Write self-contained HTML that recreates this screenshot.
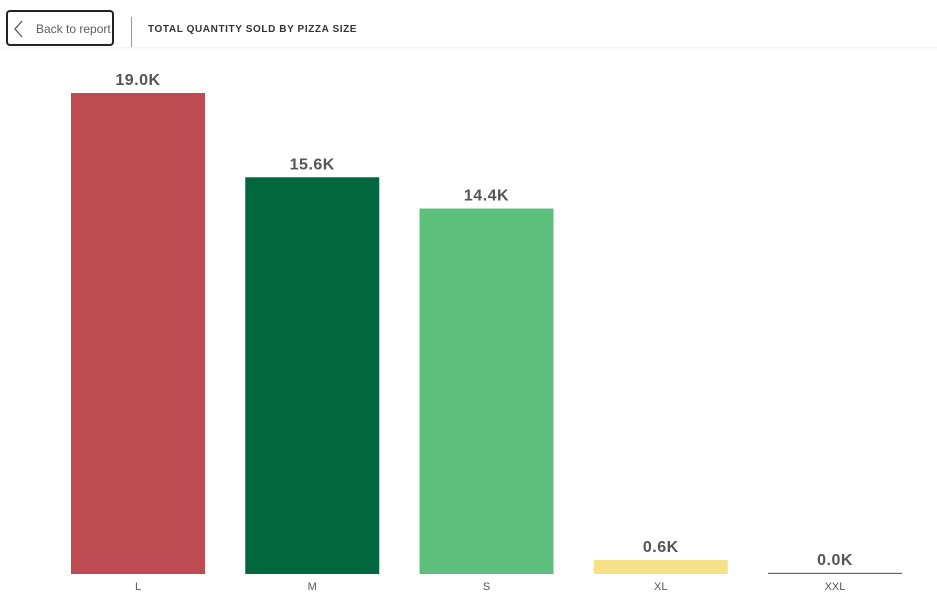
<!DOCTYPE html>
<html><head><meta charset="utf-8"><style>
html,body{margin:0;padding:0;background:#fff;width:937px;height:602px;overflow:hidden;font-family:"Liberation Sans",sans-serif}
#back{position:absolute;left:6px;top:10px;width:108px;height:36px;border:2px solid #222;border-radius:4px;box-sizing:border-box}
#back span{position:absolute;left:28px;top:10px;font-size:12px;color:#605e5c}
#sep{position:absolute;left:131px;top:17px;width:1px;height:30px;background:#999}
#title{position:absolute;left:148px;top:24px;font-size:10px;font-weight:bold;color:#333;letter-spacing:0.6px}
#hdr{position:absolute;left:0;top:47px;width:937px;height:3px;background:linear-gradient(#f1f1f1,#fff)}
</style></head><body>
<div id="back">
<svg width="14" height="20" style="position:absolute;left:4px;top:7px"><polyline points="10,2 3,10 10,18" fill="none" stroke="#555" stroke-width="1.3"/></svg>
<span>Back to report</span></div>
<div id="sep"></div>
<div id="title">TOTAL QUANTITY SOLD BY PIZZA SIZE</div>
<div id="hdr"></div>
<svg id="chart" width="937" height="602" style="position:absolute;left:0;top:0"></svg>
<script>
const categories=["L","M","S","XL","XXL"];
const values=[18956,15635,14403,552,28];
const valueLabels=["19.0K","15.6K","14.4K","0.6K","0.0K"];
const colors=["#bd4b51","#02673f","#5cbf7b","#f5e187","#666666"];
const svg=document.getElementById('chart');
const NS="http://www.w3.org/2000/svg";
const baseY=574,left=71,step=174.25,bw=134,maxV=18956,maxH=481;
const y=v=>baseY-v/maxV*maxH;
categories.forEach((c,i)=>{
  const x=left+i*step;
  let top=y(values[i]);let h=baseY-top;if(h<1.2){h=1.2;top=baseY-h;}
  const r=document.createElementNS(NS,'rect');
  r.setAttribute('x',x);r.setAttribute('y',top);r.setAttribute('width',bw);r.setAttribute('height',h);r.setAttribute('fill',colors[i]);
  
  
  svg.appendChild(r);
  const t=document.createElementNS(NS,'text');
  t.setAttribute('x',x+bw/2);t.setAttribute('y',top-8);t.setAttribute('text-anchor','middle');
  t.setAttribute('font-size','16');t.setAttribute('font-weight','bold');t.setAttribute('fill','#555');t.setAttribute('letter-spacing','0.5');
  t.textContent=valueLabels[i];
  
  
  svg.appendChild(t);
  const a=document.createElementNS(NS,'text');
  a.setAttribute('x',x+bw/2);a.setAttribute('y',590);a.setAttribute('text-anchor','middle');
  a.setAttribute('font-size','11');a.setAttribute('fill','#555');
  a.textContent=c;
  
  
  svg.appendChild(a);
});
</script>
</body></html>
